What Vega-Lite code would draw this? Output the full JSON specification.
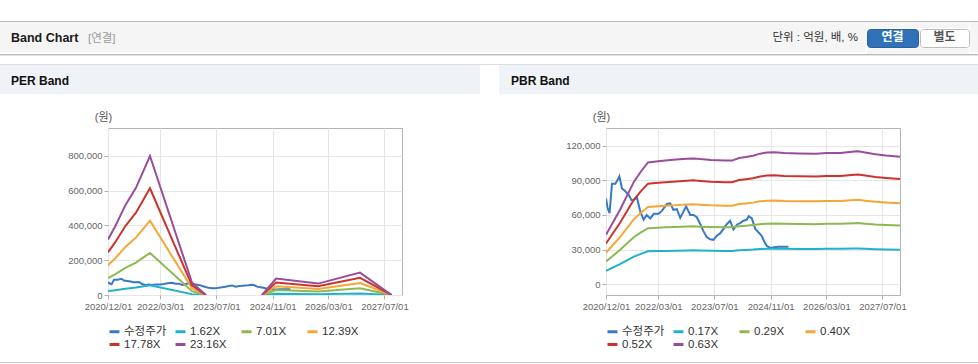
{
  "$schema": "https://vega.github.io/schema/vega-lite/v6.json",
  "background": "white",
  "padding": {"left": 0, "top": 21, "right": 0, "bottom": 0},
  "spacing": 0,
  "config": {
    "font": "Liberation Sans, Noto Sans CJK KR",
    "view": {"stroke": null},
    "title": {"font": "Liberation Sans, Noto Sans CJK KR", "baseline": "top", "frame": "group"},
    "axis": {"labelFont": "Liberation Sans, Noto Sans CJK KR", "titleFont": "Liberation Sans, Noto Sans CJK KR"},
    "legend": {
      "orient": "bottom", "direction": "horizontal", "columns": 4,
      "symbolType": "stroke", "symbolSize": 100, "symbolStrokeWidth": 3,
      "labelFont": "Liberation Sans, Noto Sans CJK KR", "labelFontSize": 11.5, "labelColor": "#333333",
      "gridAlign": "all", "columnPadding": 2, "rowPadding": -1, "labelOffset": 3,
      "offset": 14, "padding": 0
    }
  },
  "datasets": {
    "price": [
      {"d":"2020-12-01","v":74000},{"d":"2020-12-15","v":66000},{"d":"2021-01-01","v":61500},
      {"d":"2021-01-12","v":75000},{"d":"2021-01-22","v":87000},{"d":"2021-02-20","v":87000},
      {"d":"2021-03-10","v":90000},{"d":"2021-03-27","v":93500},{"d":"2021-04-19","v":83000},
      {"d":"2021-05-18","v":80500},{"d":"2021-06-16","v":77500},{"d":"2021-07-10","v":73000},
      {"d":"2021-07-29","v":73000},{"d":"2021-08-27","v":75000},{"d":"2021-09-25","v":63000},
      {"d":"2021-10-24","v":56000},{"d":"2021-11-20","v":60000},{"d":"2021-12-21","v":57000},
      {"d":"2022-01-20","v":61000},{"d":"2022-03-03","v":61000},{"d":"2022-04-01","v":63500},
      {"d":"2022-05-15","v":69500},{"d":"2022-06-12","v":70000},{"d":"2022-07-10","v":64500},
      {"d":"2022-08-09","v":65000},{"d":"2022-09-07","v":57500},{"d":"2022-10-01","v":62000},
      {"d":"2022-10-28","v":67500},{"d":"2022-12-03","v":60000},{"d":"2023-01-01","v":60000},
      {"d":"2023-01-30","v":58000},{"d":"2023-03-01","v":52000},{"d":"2023-03-28","v":46000},
      {"d":"2023-04-25","v":41000},{"d":"2023-05-25","v":39000},{"d":"2023-06-23","v":38500},
      {"d":"2023-07-22","v":42000},{"d":"2023-08-20","v":44000},{"d":"2023-09-18","v":48000},
      {"d":"2023-10-17","v":52000},{"d":"2023-11-15","v":55000},{"d":"2023-12-14","v":47500},
      {"d":"2024-01-18","v":52000},{"d":"2024-02-10","v":53000},{"d":"2024-03-10","v":55000},
      {"d":"2024-04-08","v":56000},{"d":"2024-04-25","v":59000},{"d":"2024-05-22","v":57000},
      {"d":"2024-06-20","v":48000},{"d":"2024-07-18","v":45000},{"d":"2024-08-15","v":42000},
      {"d":"2024-09-12","v":36000},{"d":"2024-10-01","v":33000},{"d":"2024-11-01","v":31500},
      {"d":"2024-12-01","v":32000},{"d":"2025-01-09","v":32500},{"d":"2025-02-15","v":32500},
      {"d":"2025-04-05","v":32500}
    ],
    "per": [
      {"d":"2020-12-01","s":"1.62X","v":22360,"g":1},{"d":"2020-12-01","s":"7.01X","v":96740,"g":1},{"d":"2020-12-01","s":"12.39X","v":170980,"g":1},{"d":"2020-12-01","s":"17.78X","v":245360,"g":1},{"d":"2020-12-01","s":"23.16X","v":319610,"g":1},
      {"d":"2021-02-01","s":"1.62X","v":27540,"g":1},{"d":"2021-02-01","s":"7.01X","v":119170,"g":1},{"d":"2021-02-01","s":"12.39X","v":210630,"g":1},{"d":"2021-02-01","s":"17.78X","v":302260,"g":1},{"d":"2021-02-01","s":"23.16X","v":393720,"g":1},
      {"d":"2021-05-01","s":"1.62X","v":36130,"g":1},{"d":"2021-05-01","s":"7.01X","v":156320,"g":1},{"d":"2021-05-01","s":"12.39X","v":276300,"g":1},{"d":"2021-05-01","s":"17.78X","v":396490,"g":1},{"d":"2021-05-01","s":"23.16X","v":516470,"g":1},
      {"d":"2021-08-01","s":"1.62X","v":43090,"g":1},{"d":"2021-08-01","s":"7.01X","v":186470,"g":1},{"d":"2021-08-01","s":"12.39X","v":329570,"g":1},{"d":"2021-08-01","s":"17.78X","v":472950,"g":1},{"d":"2021-08-01","s":"23.16X","v":616060,"g":1},
      {"d":"2021-12-01","s":"1.62X","v":55890,"g":1},{"d":"2021-12-01","s":"7.01X","v":241850,"g":1},{"d":"2021-12-01","s":"12.39X","v":427460,"g":1},{"d":"2021-12-01","s":"17.78X","v":613410,"g":1},{"d":"2021-12-01","s":"23.16X","v":799020,"g":1},
      {"d":"2022-12-01","s":"1.62X","v":5020,"g":1},{"d":"2022-12-01","s":"7.01X","v":21730,"g":1},{"d":"2022-12-01","s":"12.39X","v":38410,"g":1},{"d":"2022-12-01","s":"17.78X","v":55120,"g":1},{"d":"2022-12-01","s":"23.16X","v":71800,"g":1},
      {"d":"2023-04-01","s":"1.62X","v":0,"g":1},{"d":"2023-04-01","s":"7.01X","v":0,"g":1},{"d":"2023-04-01","s":"12.39X","v":0,"g":1},{"d":"2023-04-01","s":"17.78X","v":0,"g":1},{"d":"2023-04-01","s":"23.16X","v":0,"g":1},
      {"d":"2024-08-01","s":"1.62X","v":0,"g":2},{"d":"2024-08-01","s":"7.01X","v":0,"g":2},{"d":"2024-08-01","s":"12.39X","v":0,"g":2},{"d":"2024-08-01","s":"17.78X","v":0,"g":2},{"d":"2024-08-01","s":"23.16X","v":0,"g":2},
      {"d":"2024-12-01","s":"1.62X","v":6590,"g":2},{"d":"2024-12-01","s":"7.01X","v":28530,"g":2},{"d":"2024-12-01","s":"12.39X","v":50430,"g":2},{"d":"2024-12-01","s":"17.78X","v":72360,"g":2},{"d":"2024-12-01","s":"23.16X","v":94260,"g":2},
      {"d":"2025-12-01","s":"1.62X","v":4580,"g":2},{"d":"2025-12-01","s":"7.01X","v":19840,"g":2},{"d":"2025-12-01","s":"12.39X","v":35060,"g":2},{"d":"2025-12-01","s":"17.78X","v":50320,"g":2},{"d":"2025-12-01","s":"23.16X","v":65540,"g":2},
      {"d":"2026-12-01","s":"1.62X","v":9010,"g":2},{"d":"2026-12-01","s":"7.01X","v":38980,"g":2},{"d":"2026-12-01","s":"12.39X","v":68890,"g":2},{"d":"2026-12-01","s":"17.78X","v":98860,"g":2},{"d":"2026-12-01","s":"23.16X","v":128770,"g":2},
      {"d":"2027-09-01","s":"1.62X","v":0,"g":2},{"d":"2027-09-01","s":"7.01X","v":0,"g":2},{"d":"2027-09-01","s":"12.39X","v":0,"g":2},{"d":"2027-09-01","s":"17.78X","v":0,"g":2},{"d":"2027-09-01","s":"23.16X","v":0,"g":2}
    ],
    "pbr": [
      {"d":"2020-12-01","s":"0.17X","v":11560},{"d":"2020-12-01","s":"0.29X","v":19720},{"d":"2020-12-01","s":"0.40X","v":27200},{"d":"2020-12-01","s":"0.52X","v":35360},{"d":"2020-12-01","s":"0.63X","v":42840},
      {"d":"2021-04-01","s":"0.17X","v":17340},{"d":"2021-04-01","s":"0.29X","v":29580},{"d":"2021-04-01","s":"0.40X","v":40800},{"d":"2021-04-01","s":"0.52X","v":53040},{"d":"2021-04-01","s":"0.63X","v":64260},
      {"d":"2021-08-01","s":"0.17X","v":23970},{"d":"2021-08-01","s":"0.29X","v":40890},{"d":"2021-08-01","s":"0.40X","v":56400},{"d":"2021-08-01","s":"0.52X","v":73320},{"d":"2021-08-01","s":"0.63X","v":88830},
      {"d":"2021-10-01","s":"0.17X","v":26350},{"d":"2021-10-01","s":"0.29X","v":44950},{"d":"2021-10-01","s":"0.40X","v":62000},{"d":"2021-10-01","s":"0.52X","v":80600},{"d":"2021-10-01","s":"0.63X","v":97650},
      {"d":"2021-12-01","s":"0.17X","v":28480},{"d":"2021-12-01","s":"0.29X","v":48580},{"d":"2021-12-01","s":"0.40X","v":67000},{"d":"2021-12-01","s":"0.52X","v":87100},{"d":"2021-12-01","s":"0.63X","v":105530},
      {"d":"2022-03-01","s":"0.17X","v":28730},{"d":"2022-03-01","s":"0.29X","v":49010},{"d":"2022-03-01","s":"0.40X","v":67600},{"d":"2022-03-01","s":"0.52X","v":87880},{"d":"2022-03-01","s":"0.63X","v":106470},
      {"d":"2022-05-01","s":"0.17X","v":28900},{"d":"2022-05-01","s":"0.29X","v":49300},{"d":"2022-05-01","s":"0.40X","v":68000},{"d":"2022-05-01","s":"0.52X","v":88400},{"d":"2022-05-01","s":"0.63X","v":107100},
      {"d":"2022-08-01","s":"0.17X","v":29120},{"d":"2022-08-01","s":"0.29X","v":49680},{"d":"2022-08-01","s":"0.40X","v":68520},{"d":"2022-08-01","s":"0.52X","v":89080},{"d":"2022-08-01","s":"0.63X","v":107920},
      {"d":"2022-11-01","s":"0.17X","v":29330},{"d":"2022-11-01","s":"0.29X","v":50030},{"d":"2022-11-01","s":"0.40X","v":69000},{"d":"2022-11-01","s":"0.52X","v":89700},{"d":"2022-11-01","s":"0.63X","v":108680},
      {"d":"2023-01-01","s":"0.17X","v":29410},{"d":"2023-01-01","s":"0.29X","v":50170},{"d":"2023-01-01","s":"0.40X","v":69200},{"d":"2023-01-01","s":"0.52X","v":89960},{"d":"2023-01-01","s":"0.63X","v":108990},
      {"d":"2023-03-01","s":"0.17X","v":29240},{"d":"2023-03-01","s":"0.29X","v":49880},{"d":"2023-03-01","s":"0.40X","v":68800},{"d":"2023-03-01","s":"0.52X","v":89440},{"d":"2023-03-01","s":"0.63X","v":108360},
      {"d":"2023-06-01","s":"0.17X","v":29040},{"d":"2023-06-01","s":"0.29X","v":49530},{"d":"2023-06-01","s":"0.40X","v":68320},{"d":"2023-06-01","s":"0.52X","v":88820},{"d":"2023-06-01","s":"0.63X","v":107600},
      {"d":"2023-10-01","s":"0.17X","v":28900},{"d":"2023-10-01","s":"0.29X","v":49300},{"d":"2023-10-01","s":"0.40X","v":68000},{"d":"2023-10-01","s":"0.52X","v":88400},{"d":"2023-10-01","s":"0.63X","v":107100},
      {"d":"2023-12-01","s":"0.17X","v":28900},{"d":"2023-12-01","s":"0.29X","v":49300},{"d":"2023-12-01","s":"0.40X","v":68000},{"d":"2023-12-01","s":"0.52X","v":88400},{"d":"2023-12-01","s":"0.63X","v":107100},
      {"d":"2024-02-01","s":"0.17X","v":29500},{"d":"2024-02-01","s":"0.29X","v":50320},{"d":"2024-02-01","s":"0.40X","v":69400},{"d":"2024-02-01","s":"0.52X","v":90220},{"d":"2024-02-01","s":"0.63X","v":109310},
      {"d":"2024-04-01","s":"0.17X","v":29750},{"d":"2024-04-01","s":"0.29X","v":50750},{"d":"2024-04-01","s":"0.40X","v":70000},{"d":"2024-04-01","s":"0.52X","v":91000},{"d":"2024-04-01","s":"0.63X","v":110250},
      {"d":"2024-06-01","s":"0.17X","v":30040},{"d":"2024-06-01","s":"0.29X","v":51240},{"d":"2024-06-01","s":"0.40X","v":70680},{"d":"2024-06-01","s":"0.52X","v":91880},{"d":"2024-06-01","s":"0.63X","v":111320},
      {"d":"2024-08-01","s":"0.17X","v":30520},{"d":"2024-08-01","s":"0.29X","v":52060},{"d":"2024-08-01","s":"0.40X","v":71800},{"d":"2024-08-01","s":"0.52X","v":93340},{"d":"2024-08-01","s":"0.63X","v":113090},
      {"d":"2024-10-01","s":"0.17X","v":30770},{"d":"2024-10-01","s":"0.29X","v":52490},{"d":"2024-10-01","s":"0.40X","v":72400},{"d":"2024-10-01","s":"0.52X","v":94120},{"d":"2024-10-01","s":"0.63X","v":114030},
      {"d":"2024-12-01","s":"0.17X","v":30820},{"d":"2024-12-01","s":"0.29X","v":52580},{"d":"2024-12-01","s":"0.40X","v":72520},{"d":"2024-12-01","s":"0.52X","v":94280},{"d":"2024-12-01","s":"0.63X","v":114220},
      {"d":"2025-03-01","s":"0.17X","v":30650},{"d":"2025-03-01","s":"0.29X","v":52290},{"d":"2025-03-01","s":"0.40X","v":72120},{"d":"2025-03-01","s":"0.52X","v":93760},{"d":"2025-03-01","s":"0.63X","v":113590},
      {"d":"2025-07-01","s":"0.17X","v":30570},{"d":"2025-07-01","s":"0.29X","v":52140},{"d":"2025-07-01","s":"0.40X","v":71920},{"d":"2025-07-01","s":"0.52X","v":93500},{"d":"2025-07-01","s":"0.63X","v":113270},
      {"d":"2025-12-01","s":"0.17X","v":30520},{"d":"2025-12-01","s":"0.29X","v":52060},{"d":"2025-12-01","s":"0.40X","v":71800},{"d":"2025-12-01","s":"0.52X","v":93340},{"d":"2025-12-01","s":"0.63X","v":113090},
      {"d":"2026-03-01","s":"0.17X","v":30650},{"d":"2026-03-01","s":"0.29X","v":52290},{"d":"2026-03-01","s":"0.40X","v":72120},{"d":"2026-03-01","s":"0.52X","v":93760},{"d":"2026-03-01","s":"0.63X","v":113590},
      {"d":"2026-07-01","s":"0.17X","v":30650},{"d":"2026-07-01","s":"0.29X","v":52290},{"d":"2026-07-01","s":"0.40X","v":72120},{"d":"2026-07-01","s":"0.52X","v":93760},{"d":"2026-07-01","s":"0.63X","v":113590},
      {"d":"2026-11-01","s":"0.17X","v":31030},{"d":"2026-11-01","s":"0.29X","v":52930},{"d":"2026-11-01","s":"0.40X","v":73000},{"d":"2026-11-01","s":"0.52X","v":94900},{"d":"2026-11-01","s":"0.63X","v":114980},
      {"d":"2026-12-01","s":"0.17X","v":31060},{"d":"2026-12-01","s":"0.29X","v":52980},{"d":"2026-12-01","s":"0.40X","v":73080},{"d":"2026-12-01","s":"0.52X","v":95000},{"d":"2026-12-01","s":"0.63X","v":115100},
      {"d":"2027-02-01","s":"0.17X","v":30770},{"d":"2027-02-01","s":"0.29X","v":52490},{"d":"2027-02-01","s":"0.40X","v":72400},{"d":"2027-02-01","s":"0.52X","v":94120},{"d":"2027-02-01","s":"0.63X","v":114030},
      {"d":"2027-05-01","s":"0.17X","v":30360},{"d":"2027-05-01","s":"0.29X","v":51790},{"d":"2027-05-01","s":"0.40X","v":71440},{"d":"2027-05-01","s":"0.52X","v":92870},{"d":"2027-05-01","s":"0.63X","v":112520},
      {"d":"2027-08-01","s":"0.17X","v":30090},{"d":"2027-08-01","s":"0.29X","v":51330},{"d":"2027-08-01","s":"0.40X","v":70800},{"d":"2027-08-01","s":"0.52X","v":92040},{"d":"2027-08-01","s":"0.63X","v":111510},
      {"d":"2027-12-01","s":"0.17X","v":29820},{"d":"2027-12-01","s":"0.29X","v":50870},{"d":"2027-12-01","s":"0.40X","v":70160},{"d":"2027-12-01","s":"0.52X","v":91210},{"d":"2027-12-01","s":"0.63X","v":110500}
    ]
  },
  "resolve": {"scale": {"color": "independent"}, "legend": {"color": "independent"}},
  "vconcat": [
    {"width": 978, "height": 1, "data": {"values": []}, "mark": {"type": "point", "opacity": 0}, "view": {"fill": "#b9b9b9", "stroke": null}},
    {
      "spacing": 0,
      "hconcat": [
        {"width": 88, "height": 31, "data": {"values": []}, "mark": {"type": "point", "opacity": 0}, "view": {"fill": "#f5f5f5", "stroke": null},
         "title": {"text": "Band Chart", "anchor": "start", "frame": "group", "dx": 11, "offset": -22.75, "baseline": "top", "fontSize": 12.5, "fontWeight": "bold", "color": "#1a1a1a"}},
        {"width": 682, "height": 31, "data": {"values": []}, "mark": {"type": "point", "opacity": 0}, "view": {"fill": "#f5f5f5", "stroke": null},
         "title": {"text": "[연결]", "anchor": "start", "frame": "group", "dx": 0, "offset": -22, "baseline": "top", "fontSize": 11.5, "fontWeight": "normal", "color": "#9a9a9a"}},
        {"width": 96, "height": 31, "data": {"values": []}, "mark": {"type": "point", "opacity": 0}, "view": {"fill": "#f5f5f5", "stroke": null},
         "title": {"text": "단위 : 억원, 배, %", "anchor": "end", "frame": "group", "dx": -8, "offset": -21.5, "baseline": "top", "fontSize": 11.5, "fontWeight": "normal", "color": "#333333"}},
        {
          "spacing": 0,
          "vconcat": [
            {"width": 102, "height": 6, "data": {"values": []}, "mark": {"type": "point", "opacity": 0}, "view": {"fill": "#f5f5f5", "stroke": null}},
            {
              "spacing": 0,
              "hconcat": [
                {"width": 51, "height": 18, "data": {"values": []}, "mark": {"type": "point", "opacity": 0}, "view": {"fill": "#2f72b8", "stroke": "#28609e", "cornerRadius": 3},
                 "title": {"text": "연결", "anchor": "middle", "frame": "group", "offset": -15, "baseline": "top", "fontSize": 12, "fontWeight": "bold", "color": "#ffffff"}},
                {"width": 49, "height": 18, "data": {"values": []}, "mark": {"type": "point", "opacity": 0}, "view": {"fill": "#ffffff", "stroke": "#bdbdbd", "cornerRadius": 3},
                 "title": {"text": "별도", "anchor": "middle", "frame": "group", "offset": -15, "baseline": "top", "fontSize": 12, "fontWeight": "bold", "color": "#555555"}}
              ]
            },
            {"width": 102, "height": 6, "data": {"values": []}, "mark": {"type": "point", "opacity": 0}, "view": {"fill": "#f5f5f5", "stroke": null}}
          ]
        },
        {"width": 10, "height": 31, "data": {"values": []}, "mark": {"type": "point", "opacity": 0}, "view": {"fill": "#f5f5f5", "stroke": null}}
      ]
    },
    {"width": 978, "height": 1, "data": {"values": []}, "mark": {"type": "point", "opacity": 0}, "view": {"fill": "#bcbcbc", "stroke": null}},
    {"width": 978, "height": 1, "data": {"values": []}, "mark": {"type": "point", "opacity": 0}, "view": {"fill": "#e3e3e3", "stroke": null}},
    {"width": 978, "height": 8, "data": {"values": []}, "mark": {"type": "point", "opacity": 0}, "view": {"fill": "#ffffff", "stroke": null}},
    {"width": 978, "height": 1, "data": {"values": []}, "mark": {"type": "point", "opacity": 0}, "view": {"fill": "#dcdcdc", "stroke": null}},
    {
      "spacing": 19,
      "hconcat": [
        {"width": 480, "height": 29, "data": {"values": []}, "mark": {"type": "point", "opacity": 0}, "view": {"fill": "#eff2f7", "stroke": null},
         "title": {"text": "PER Band", "anchor": "start", "frame": "group", "dx": 11, "offset": -22.5, "baseline": "top", "fontSize": 12, "fontWeight": "bold", "color": "#111111"}},
        {"width": 479, "height": 29, "data": {"values": []}, "mark": {"type": "point", "opacity": 0}, "view": {"fill": "#eff2f7", "stroke": null},
         "title": {"text": "PBR Band", "anchor": "start", "frame": "group", "dx": 12, "offset": -22.5, "baseline": "top", "fontSize": 12, "fontWeight": "bold", "color": "#111111"}}
      ]
    },
    {"width": 978, "height": 15.5, "data": {"values": []}, "mark": {"type": "point", "opacity": 0}, "view": {"fill": "#ffffff", "stroke": null}},
    {
      "spacing": 0,
      "bounds": "flush",
      "resolve": {"scale": {"color": "independent"}, "legend": {"color": "independent"}},
      "hconcat": [
        {"width": 108, "height": 234, "data": {"values": []}, "mark": {"type": "point", "opacity": 0}, "view": {"stroke": null}},
        {
          "width": 294, "height": 167,
          "view": {"stroke": "#b4b4b4"},
          "encoding": {
            "x": {"field": "d", "type": "temporal",
                  "scale": {"type": "utc", "domain": [{"year": 2020, "month": 12, "date": 1, "utc": true}, {"year": 2027, "month": 12, "date": 1, "utc": true}]},
                  "axis": {"title": null, "format": "%Y/%m/%d", "labelFontSize": 9.5, "labelColor": "#666666", "labelPadding": 2, "tickSize": 4, "tickColor": "#b0b0b0", "grid": true, "gridColor": "#e6e6e6", "domain": false, "labelFlush": false, "labelOverlap": false,
                           "values": [{"year": 2020, "month": 12, "date": 1, "utc": true}, {"year": 2022, "month": 3, "date": 1, "utc": true}, {"year": 2023, "month": 7, "date": 1, "utc": true}, {"year": 2024, "month": 11, "date": 1, "utc": true}, {"year": 2026, "month": 3, "date": 1, "utc": true}, {"year": 2027, "month": 7, "date": 1, "utc": true}]}},
            "y": {"field": "v", "type": "quantitative",
                  "scale": {"domain": [0, 960000], "nice": false, "zero": false},
                  "axis": {"title": "(원)", "titleAngle": 0, "titleX": -5, "titleY": -11, "titleAlign": "center", "titleBaseline": "middle", "titleFontSize": 11, "titleFontWeight": "normal", "titleColor": "#555555",
                           "values": [0, 200000, 400000, 600000, 800000], "format": ",d", "labelFontSize": 9.5, "labelColor": "#666666", "labelPadding": 2, "tickSize": 4, "tickColor": "#b0b0b0", "grid": true, "gridColor": "#e6e6e6", "domain": false}}
          },
          "layer": [
            {"data": {"name": "price"}, "mark": {"type": "line", "strokeWidth": 2, "clip": true},
             "encoding": {"color": {"datum": "수정주가", "type": "nominal",
               "scale": {"domain": ["수정주가", "1.62X", "7.01X", "12.39X", "17.78X", "23.16X"], "range": ["#3a78c3", "#1fb2c8", "#8cb952", "#f4a636", "#cd332d", "#994c9c"]},
               "legend": {"title": null}}}},
            {"data": {"name": "per"}, "mark": {"type": "line", "strokeWidth": 2, "clip": true},
             "encoding": {"color": {"field": "s", "type": "nominal",
               "scale": {"domain": ["수정주가", "1.62X", "7.01X", "12.39X", "17.78X", "23.16X"], "range": ["#3a78c3", "#1fb2c8", "#8cb952", "#f4a636", "#cd332d", "#994c9c"]},
               "legend": {"title": null}},
               "detail": {"field": "g", "type": "nominal"}}}
          ]
        },
        {"width": 204, "height": 1, "data": {"values": []}, "mark": {"type": "point", "opacity": 0}, "view": {"stroke": null}},
        {
          "width": 294, "height": 167,
          "view": {"stroke": "#b4b4b4"},
          "encoding": {
            "x": {"field": "d", "type": "temporal",
                  "scale": {"type": "utc", "domain": [{"year": 2020, "month": 12, "date": 1, "utc": true}, {"year": 2027, "month": 12, "date": 1, "utc": true}]},
                  "axis": {"title": null, "format": "%Y/%m/%d", "labelFontSize": 9.5, "labelColor": "#666666", "labelPadding": 2, "tickSize": 4, "tickColor": "#b0b0b0", "grid": true, "gridColor": "#e6e6e6", "domain": false, "labelFlush": false, "labelOverlap": false,
                           "values": [{"year": 2020, "month": 12, "date": 1, "utc": true}, {"year": 2022, "month": 3, "date": 1, "utc": true}, {"year": 2023, "month": 7, "date": 1, "utc": true}, {"year": 2024, "month": 11, "date": 1, "utc": true}, {"year": 2026, "month": 3, "date": 1, "utc": true}, {"year": 2027, "month": 7, "date": 1, "utc": true}]}},
            "y": {"field": "v", "type": "quantitative",
                  "scale": {"domain": [-9300, 135300], "nice": false, "zero": false},
                  "axis": {"title": "(원)", "titleAngle": 0, "titleX": -5, "titleY": -11, "titleAlign": "center", "titleBaseline": "middle", "titleFontSize": 11, "titleFontWeight": "normal", "titleColor": "#555555",
                           "values": [0, 30000, 60000, 90000, 120000], "format": ",d", "labelFontSize": 9.5, "labelColor": "#666666", "labelPadding": 2, "tickSize": 4, "tickColor": "#b0b0b0", "grid": true, "gridColor": "#e6e6e6", "domain": false}}
          },
          "layer": [
            {"data": {"name": "price"}, "mark": {"type": "line", "strokeWidth": 2, "clip": true},
             "encoding": {"color": {"datum": "수정주가", "type": "nominal",
               "scale": {"domain": ["수정주가", "0.17X", "0.29X", "0.40X", "0.52X", "0.63X"], "range": ["#3a78c3", "#1fb2c8", "#8cb952", "#f4a636", "#cd332d", "#994c9c"]},
               "legend": {"title": null}}}},
            {"data": {"name": "pbr"}, "mark": {"type": "line", "strokeWidth": 2, "clip": true},
             "encoding": {"color": {"field": "s", "type": "nominal",
               "scale": {"domain": ["수정주가", "0.17X", "0.29X", "0.40X", "0.52X", "0.63X"], "range": ["#3a78c3", "#1fb2c8", "#8cb952", "#f4a636", "#cd332d", "#994c9c"]},
               "legend": {"title": null}}}}
          ]
        }
      ]
    },
    {"width": 978, "height": 1, "data": {"values": []}, "mark": {"type": "point", "opacity": 0}, "view": {"fill": "#cccccc", "stroke": null}}
  ]
}
